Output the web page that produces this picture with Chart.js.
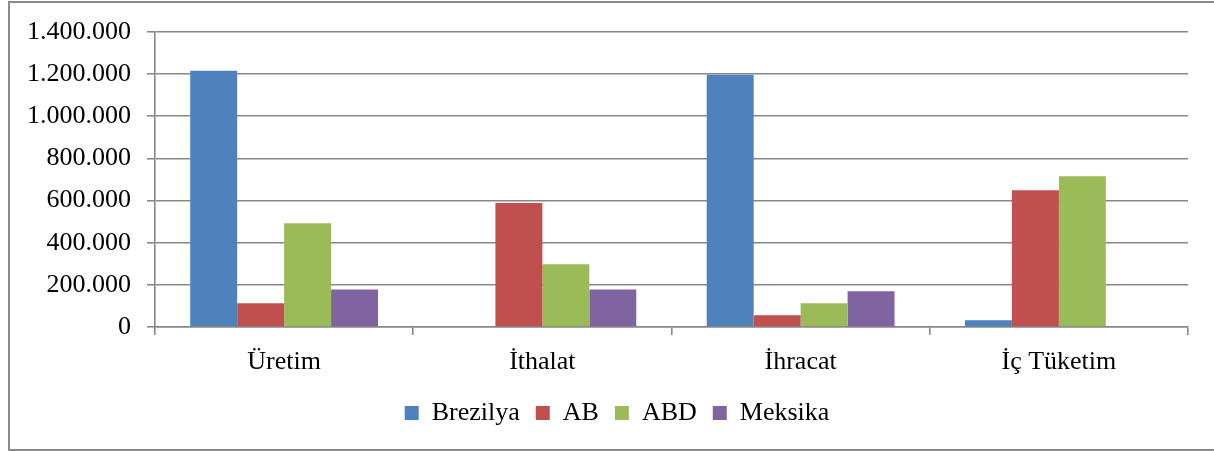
<!DOCTYPE html>
<html>
<head>
<meta charset="utf-8">
<script src="https://cdn.jsdelivr.net/npm/chart.js@4"></script>
<style>
  html, body { margin: 0; padding: 0; background: #fff; }
  #wrap { position: relative; width: 1214px; height: 451px; }
</style>
</head>
<body>
<div id="wrap"><canvas id="c" width="1214" height="451"></canvas></div>
<script>
const categories = ["Üretim", "İthalat", "İhracat", "İç Tüketim"];
const brezilya = [1216000, 0, 1197000, 32000];
const ab = [113000, 589000, 56000, 649000];
const abd = [492000, 298000, 113000, 716000];
const meksika = [178000, 178000, 170000, 3000];
const yTickValues = [0, 200000, 400000, 600000, 800000, 1000000, 1200000, 1400000];

const font = { family: "'Liberation Serif', 'Times New Roman', serif", size: 26 };
const gridColor = "#888888";

function dots(v) {
  return String(v).replace(/\B(?=(\d{3})+(?!\d))/g, ".");
}

// frame round the whole chart (left, top, bottom only, as in the picture)
const frame = {
  id: "frame",
  beforeDraw(chart) {
    const ctx = chart.ctx;
    ctx.save();
    ctx.strokeStyle = "#8a8a8a";
    ctx.lineWidth = 2;
    ctx.beginPath();
    ctx.moveTo(1214, 2);
    ctx.lineTo(9, 2);
    ctx.lineTo(9, 450);
    ctx.lineTo(1214, 450);
    ctx.stroke();
    ctx.restore();
  }
};

// legend sits a bit right of the canvas centre
const legendShift = {
  id: "legendShift",
  afterLayout(chart) {
    chart.legend.left += 13;
    chart.legend.right += 13;
  }
};

new Chart(document.getElementById("c"), {
  type: "bar",
  data: {
    labels: categories,
    datasets: [
      { label: "Brezilya", data: brezilya, backgroundColor: "#4F81BD" },
      { label: "AB", data: ab, backgroundColor: "#C0504D" },
      { label: "ABD", data: abd, backgroundColor: "#9BBB59" },
      { label: "Meksika", data: meksika, backgroundColor: "#8064A2" }
    ]
  },
  options: {
    responsive: false,
    animation: false,
    devicePixelRatio: 1,
    layout: { padding: { top: 32, left: 20, right: 26, bottom: 15 } },
    // excel gap width 150%: 4 bars in 5.5 bar widths
    datasets: { bar: { categoryPercentage: 4 / 5.5, barPercentage: 1 } },
    plugins: {
      tooltip: { enabled: false },
      legend: {
        position: "bottom",
        labels: {
          font: font,
          color: "#000",
          boxWidth: 14,
          boxHeight: 14,
          padding: 16
        }
      }
    },
    scales: {
      x: {
        afterFit(scale) { scale.height = 57; },
        grid: {
          drawOnChartArea: false,
          drawTicks: true,
          tickLength: 8,
          color: gridColor,
          lineWidth: 1.6
        },
        border: { color: gridColor, width: 1.6 },
        ticks: { font: font, color: "#000", padding: 12, maxRotation: 0 }
      },
      y: {
        min: 0,
        max: 1400000,
        afterFit(scale) { scale.width = 135; },
        afterBuildTicks(scale) { scale.ticks = yTickValues.map(v => ({ value: v })); },
        grid: { color: gridColor, lineWidth: 1.6, tickLength: 8 },
        border: { color: gridColor, width: 1.6 },
        ticks: { font: font, color: "#000", padding: 16, callback: v => dots(v) }
      }
    }
  },
  plugins: [frame, legendShift]
});
</script>
</body>
</html>
